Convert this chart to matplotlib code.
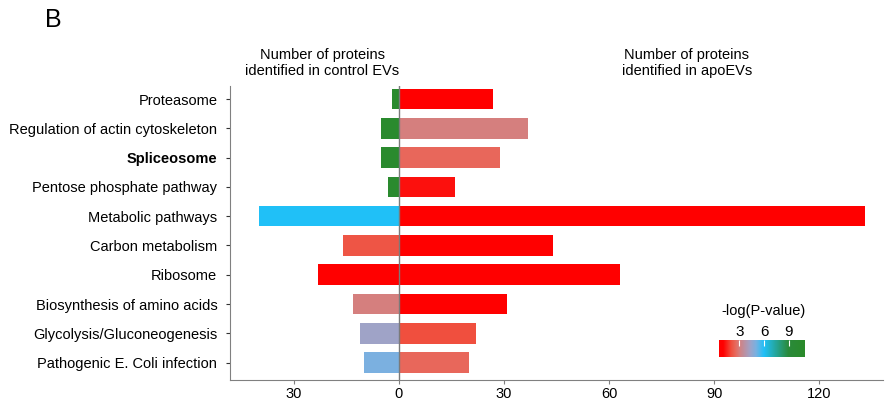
import numpy as np
import matplotlib
matplotlib.use("Agg")
import matplotlib.pyplot as plt
from matplotlib.colors import LinearSegmentedColormap, Normalize

plt.rcParams['font.family'] = ['Liberation Sans', 'DejaVu Sans']

# KEGG pathways, top to bottom
pathways = [
    "Proteasome",
    "Regulation of actin cytoskeleton",
    "Spliceosome",
    "Pentose phosphate pathway",
    "Metabolic pathways",
    "Carbon metabolism",
    "Ribosome",
    "Biosynthesis of amino acids",
    "Glycolysis/Gluconeogenesis",
    "Pathogenic E. Coli infection",
]

# number of proteins per pathway
control_counts = [2, 5, 5, 3, 40, 16, 23, 13, 11, 10]
apo_counts = [27, 37, 29, 16, 133, 44, 63, 31, 22, 20]

# -log(P-value) per pathway
control_logp = [10.5, 10.5, 10.5, 10.5, 6.0, 2.1, 0.5, 3.0, 4.3, 5.0]
apo_logp = [0.5, 3.0, 2.5, 1.2, 0.5, 0.5, 0.5, 0.6, 2.0, 2.5]

x_ticks = [-30, 0, 30, 60, 90, 120]
cbar_ticks = [3, 6, 9]

vmin, vmax = 0.5, 11.0
nodes = [
    (0.5, "#ff0000"),
    (1.0, "#ff0000"),
    (2.0, "#f0503f"),
    (2.5, "#e8685c"),
    (3.0, "#d48080"),
    (4.3, "#9fa3c8"),
    (5.0, "#7ab0e0"),
    (6.0, "#20c0f8"),
    (9.0, "#2a8a3a"),
    (11.0, "#2a8a2a"),
]
cmap = LinearSegmentedColormap.from_list(
    "logp", [((v - vmin) / (vmax - vmin), c) for v, c in nodes])
norm = Normalize(vmin=vmin, vmax=vmax)

fig = plt.figure(figsize=(8.94, 4.07), dpi=100)
ax = fig.add_axes([0.257, 0.066, 0.731, 0.723])

y = np.arange(len(pathways))
bar_h = 0.70
ax.barh(y, -np.array(control_counts), height=bar_h,
        color=[cmap(norm(v)) for v in control_logp], zorder=2)
ax.barh(y, apo_counts, height=bar_h,
        color=[cmap(norm(v)) for v in apo_logp], zorder=2)
ax.axvline(0, color="#7a7a7a", lw=1.0, zorder=3)

ax.set_xlim(-48.3, 138.3)
ax.set_ylim(len(pathways) - 0.4, -0.45)
ax.set_yticks(y)
ax.set_yticklabels(pathways, fontsize=10.5)
for lbl in ax.get_yticklabels():
    if lbl.get_text() == "Spliceosome":
        lbl.set_fontweight("bold")
ax.set_xticks(x_ticks)
ax.set_xticklabels([str(abs(t)) for t in x_ticks], fontsize=10.5)

for side in ("top", "right"):
    ax.spines[side].set_visible(False)
for side in ("left", "bottom"):
    ax.spines[side].set_color("#808080")
ax.tick_params(axis="y", length=3, color="#333333", pad=6)
ax.tick_params(axis="x", length=3, color="#808080", pad=2)

fig.text(322 / 894, 1 - 63 / 407,
         "Number of proteins\nidentified in control EVs",
         ha="center", va="center", fontsize=10.5, linespacing=1.1)
fig.text(687 / 894, 1 - 63 / 407,
         "Number of proteins\nidentified in apoEVs",
         ha="center", va="center", fontsize=10.5, linespacing=1.1)
fig.text(45 / 894, 1 - 20 / 407, "B", ha="left", va="center", fontsize=18)

# colour scale
cax = fig.add_axes([719 / 894, 1 - 357 / 407, 86 / 894, 17 / 407])
grad = np.linspace(vmin, vmax, 256).reshape(1, -1)
cax.imshow(grad, aspect="auto", cmap=cmap, norm=norm,
           extent=[vmin, vmax, 0, 1])
cax.set_xlim(vmin, vmax)
cax.set_yticks([])
cax.set_xticks(cbar_ticks)
cax.xaxis.tick_top()
cax.tick_params(axis="x", direction="in", length=4, color="white",
                labelsize=11, pad=1)
for s in cax.spines.values():
    s.set_visible(False)
fig.text(764 / 894, 1 - 311 / 407, "-log(P-value)",
         ha="center", va="center", fontsize=10.5)

fig.savefig("out.png", dpi=100)
